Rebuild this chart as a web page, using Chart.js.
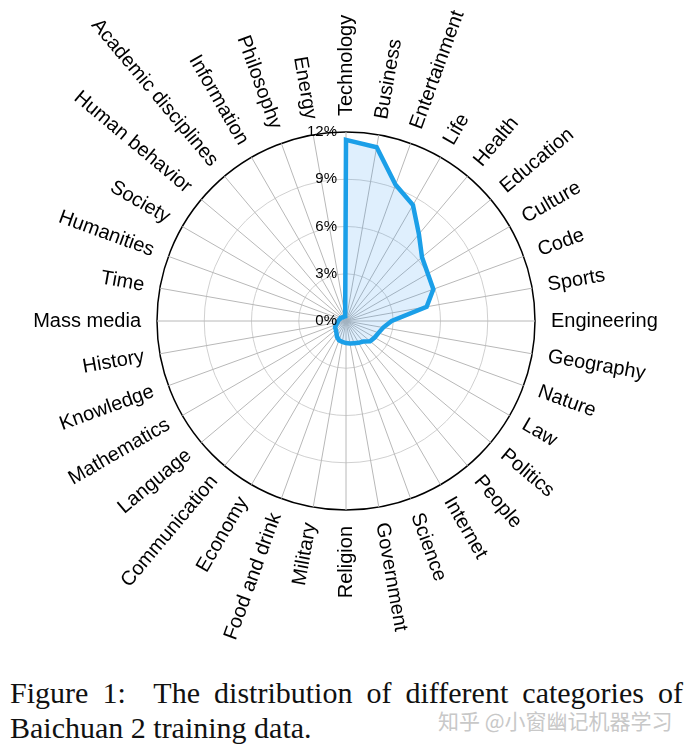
<!DOCTYPE html>
<html>
<head>
<meta charset="utf-8">
<script src="https://cdn.jsdelivr.net/npm/chart.js"></script>
<style>
    body { margin: 0; background: #fff; }
    #wrap { position: relative; width: 690px; height: 747px; }
    #box { position: absolute; left: 0; top: 0; width: 690px; height: 660px; }
    .cap { position: absolute; left: 10px; width: 673px; font-family: "Liberation Serif", "Times New Roman", serif; font-size: 30px; line-height: 35px; color: #111; white-space: nowrap; }
    #cap1 { top: 675px; text-align: justify; text-align-last: justify; white-space: normal; }
    #cap2 { top: 710px; }
    #mark { position: absolute; left: 438px; top: 705px; font-family: "Noto Sans CJK SC", sans-serif; font-size: 21px; color: #c8c8c8; }
</style>
</head>
<body>
<div id="wrap">
    <div id="box"><canvas id="radar"></canvas></div>
    <div class="cap" id="cap1">Figure 1:&nbsp; The distribution of different categories of</div>
    <div class="cap" id="cap2">Baichuan 2 training data.</div>
    <div id="mark">知乎 @小窗幽记机器学习</div>
</div>
<script>
const categories = [
    "Technology", "Business", "Entertainment", "Life", "Health", "Education",
    "Culture", "Code", "Sports", "Engineering", "Geography", "Nature",
    "Law", "Politics", "People", "Internet", "Science", "Government",
    "Religion", "Military", "Food and drink", "Economy", "Communication", "Language",
    "Mathematics", "Knowledge", "History", "Mass media", "Time", "Humanities",
    "Society", "Human behavior", "Academic disciplines", "Information", "Philosophy", "Energy"
];
// share of training data, percent
const shares = [
    11.5, 11.2, 9.2, 8.5, 7.2, 6.3,
    6.0, 5.9, 5.2, 2.9, 2.4, 2.2,
    2.1, 2.0, 1.7, 1.6, 1.5, 1.45,
    1.4, 1.35, 1.3, 1.15, 0.95, 0.85,
    0.8, 0.65, 0.55, 0.5, 0.45, 0.4,
    0.4, 0.35, 0.3, 0.3, 0.3, 0.3
];
const tickValues = [0, 3, 6, 9, 12];

// rotated category labels + tick labels drawn by hand
const radialLabels = {
    id: "radialLabels",
    afterDraw(chart) {
        const scale = chart.scales.r;
        const c = chart.ctx;
        const R = scale.drawingArea;
        c.save();
        c.fillStyle = "#000";
        c.textBaseline = "middle";
        c.font = '20px "Liberation Sans", Arial, sans-serif';
        categories.forEach((name, i) => {
            const p = scale.getPointPosition(i, R + 16);
            c.save();
            c.translate(p.x, p.y);
            if (i < categories.length / 2) {
                c.rotate(p.angle);
                c.textAlign = "left";
            } else {
                c.rotate(p.angle + Math.PI);
                c.textAlign = "right";
            }
            c.fillText(name, 0, 0);
            c.restore();
        });
        c.font = '15px "Liberation Sans", Arial, sans-serif';
        c.textAlign = "right";
        tickValues.forEach(v => {
            const d = scale.getDistanceFromCenterForValue(v);
            c.fillText(v + "%", scale.xCenter - 9, scale.yCenter - d);
        });
        c.restore();
    }
};

new Chart(document.getElementById("radar"), {
    type: "radar",
    data: {
        labels: categories,
        datasets: [{
            data: shares,
            borderColor: "#1b9fe8",
            backgroundColor: "rgba(40,150,240,0.15)",
            borderWidth: 4.5,
            borderJoinStyle: "miter",
            fill: true,
            pointRadius: 0,
            tension: 0
        }]
    },
    options: {
        responsive: true,
        maintainAspectRatio: false,
        animation: false,
        layout: { padding: { left: 157, right: 155, top: 132, bottom: 150 } },
        plugins: { legend: { display: false }, tooltip: { enabled: false } },
        scales: {
            r: {
                min: 0,
                max: 12,
                ticks: { stepSize: 3, display: false },
                pointLabels: { display: false },
                angleLines: { color: "#b8b8b8", lineWidth: 1 },
                grid: {
                    circular: true,
                    color: ctx => ctx.index === tickValues.length - 1 ? "#000" : "#d0d0d0",
                    lineWidth: ctx => ctx.index === tickValues.length - 1 ? 1.5 : 1
                }
            }
        }
    },
    plugins: [radialLabels]
});
</script>
</body>
</html>
